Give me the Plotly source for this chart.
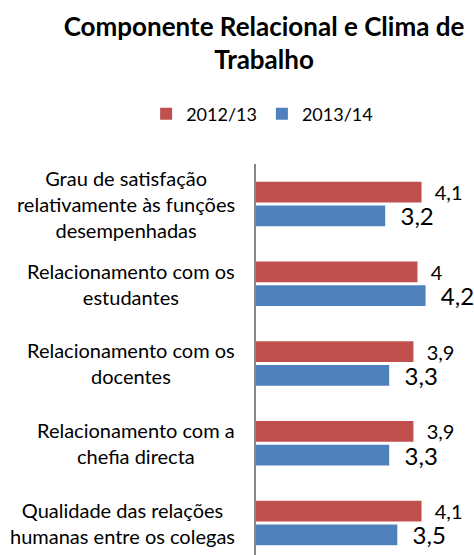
import plotly.graph_objects as go

categories = [
    "Grau de satisfação<br>relativamente às funções<br>desempenhadas",
    "Relacionamento com os<br>estudantes",
    "Relacionamento com os<br>docentes",
    "Relacionamento com a<br>chefia directa",
    "Qualidade das relações<br>humanas entre os colegas",
]
series_names = ["2012/13", "2013/14"]
values_2012 = [4.1, 4.0, 3.9, 3.9, 4.1]
values_2013 = [3.2, 4.2, 3.3, 3.3, 3.5]
colors = ["#C0504D", "#4F81BD"]

FONT = "Lato, Open Sans, sans-serif"

def fmt(v):
    return ("%g" % v).replace(".", ",")

cat_ids = list(range(len(categories)))
pad = "\u00a0\u00a0"

fig = go.Figure()
fig.add_trace(go.Bar(
    y=cat_ids, x=values_2012, name=series_names[0], orientation="h",
    marker=dict(color=colors[0], line=dict(width=0)),
    text=[pad + fmt(v) for v in values_2012],
    textposition="outside",
    textfont=dict(family=FONT, size=20, color="#000000"),
    constraintext="none", cliponaxis=False,
))
fig.add_trace(go.Bar(
    y=cat_ids, x=values_2013, name=series_names[1], orientation="h",
    marker=dict(color=colors[1], line=dict(width=0)),
    text=[pad + fmt(v) for v in values_2013],
    textposition="outside",
    textfont=dict(family=FONT, size=24, color="#000000"),
    constraintext="none", cliponaxis=False,
))

for i, c in enumerate(categories):
    fig.add_annotation(
        x=0, xref="paper", xanchor="right", xshift=-19,
        y=i, yref="y", yanchor="middle",
        text=c, align="center", showarrow=False,
        font=dict(family=FONT, size=20, color="#000000"),
    )

fig.update_layout(
    width=474, height=555,
    margin=dict(l=256, r=0, t=164, b=0, autoexpand=False),
    paper_bgcolor="white", plot_bgcolor="white",
    font=dict(family=FONT, color="#000000"),
    title=dict(
        text="<b>Componente Relacional e Clima de<br>Trabalho</b>",
        x=0.557, xanchor="center", xref="container",
        y=0.936, yanchor="top", yref="container",
        font=dict(family=FONT, size=26, color="#000000"),
    ),
    legend=dict(
        orientation="h", xref="paper", yref="paper",
        x=-0.504, xanchor="left", y=1.128, yanchor="middle",
        font=dict(family=FONT, size=18), traceorder="normal",
    ),
    barmode="group", bargap=0.405, bargroupgap=0.127,
    xaxis=dict(range=[0, 5.4], showgrid=False, showticklabels=False,
               zeroline=False, showline=False, ticks=""),
    yaxis=dict(range=[4.4, -0.5], showticklabels=False, ticks="",
               showgrid=False, zeroline=False,
               showline=True, linecolor="#868686", linewidth=2),
)
fig.write_html("out.html", config={"displayModeBar": False},
               post_script="document.body.style.margin='0px';")
